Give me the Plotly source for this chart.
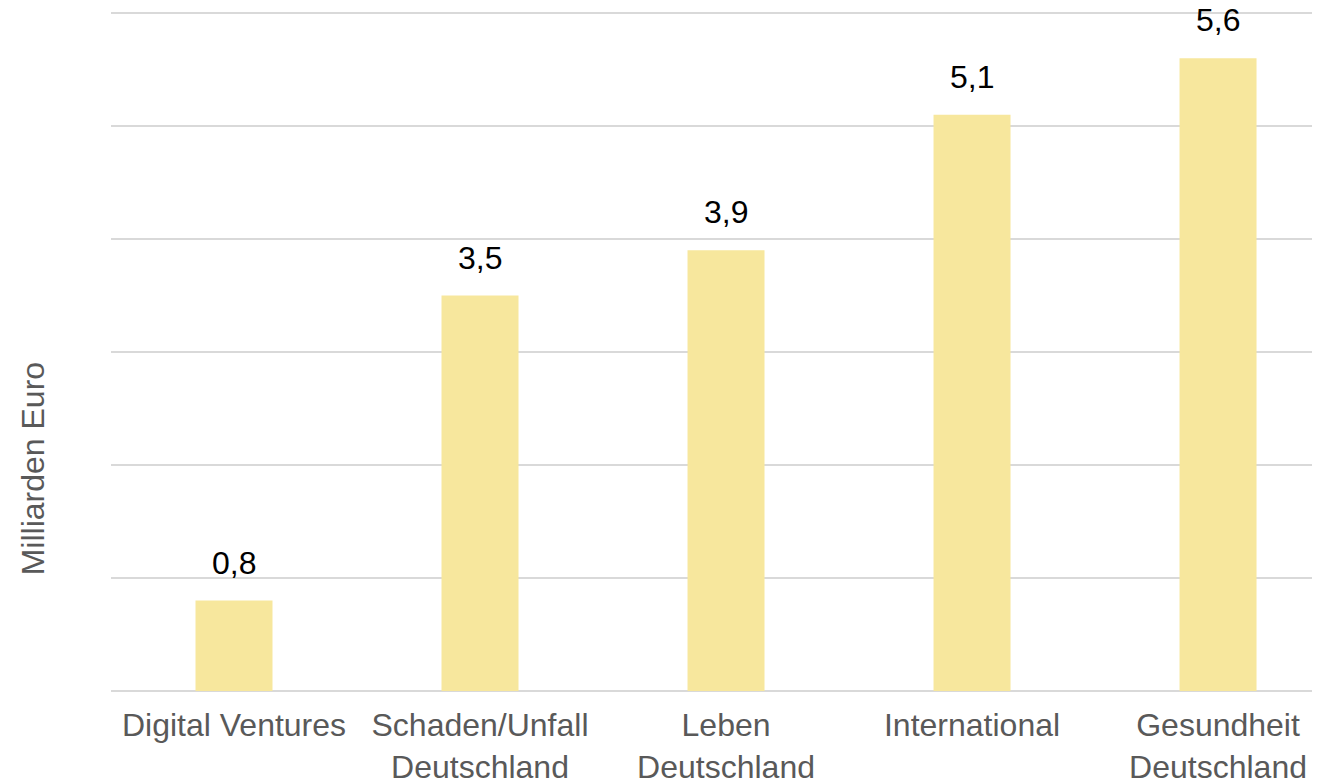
import plotly.graph_objects as go

categories = ["Digital Ventures", "Schaden/Unfall<br>Deutschland", "Leben<br>Deutschland",
              "International", "Gesundheit<br>Deutschland"]
values = [0.8, 3.5, 3.9, 5.1, 5.6]
value_labels = ["0,8", "3,5", "3,9", "5,1", "5,6"]
y_title = "Milliarden Euro"

FONT = "Liberation Sans, Arial, sans-serif"

fig = go.Figure()
fig.add_trace(go.Bar(
    x=list(range(len(categories))), y=values,
    marker=dict(color="#F7E79D", line=dict(width=0)),
    width=0.313,
    hoverinfo="skip",
))

for i, (v, t) in enumerate(zip(values, value_labels)):
    fig.add_annotation(x=i, y=v, text=t, showarrow=False, yanchor="bottom",
                       yshift=18, font=dict(family=FONT, size=32, color="#000000"))

fig.add_annotation(xref="paper", yref="paper", x=0, y=0.326, xshift=-78, text=y_title,
                   textangle=-90, showarrow=False, xanchor="center", yanchor="middle",
                   font=dict(family=FONT, size=32, color="#595959"))

fig.update_layout(
    width=1320, height=778,
    margin=dict(l=103, r=0, t=3, b=95, autoexpand=False),
    paper_bgcolor="white", plot_bgcolor="white",
    showlegend=False,
    xaxis=dict(tickmode="array", tickvals=list(range(len(categories))), ticktext=categories,
               range=[-0.5, 4.447], showgrid=False, zeroline=False, showline=False,
               ticks="", ticklabelstandoff=12, automargin=False,
               tickfont=dict(family=FONT, size=32, color="#595959")),
    yaxis=dict(range=[0, 6.018], tickvals=[1, 2, 3, 4, 5, 6], showticklabels=False, showgrid=True,
               gridcolor="#D9D9D9", gridwidth=2, zeroline=True, zerolinecolor="#D9D9D9",
               zerolinewidth=2, showline=False, ticks="", automargin=False),
)

fig.write_html("out.html")
